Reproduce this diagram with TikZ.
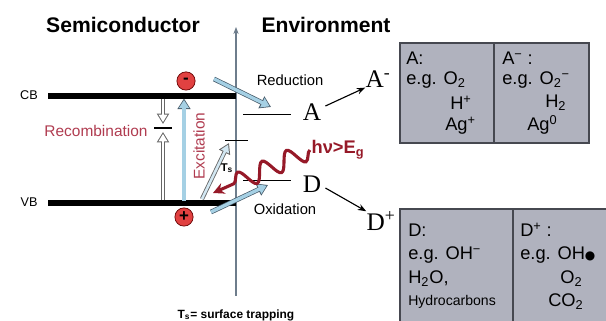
\documentclass[tikz,border=0pt]{standalone}
\usepackage{fontspec}
\setmainfont{Liberation Sans}
\newfontfamily\seriffont{Liberation Serif}
\newfontfamily\symfont{DejaVu Sans}
\usetikzlibrary{arrows.meta, decorations.pathmorphing}

\definecolor{boxgray}{RGB}{176,178,190}
\definecolor{boxedge}{RGB}{70,72,80}
\definecolor{pale}{RGB}{165,208,228}
\definecolor{paleedge}{RGB}{70,90,105}
\definecolor{axisgray}{RGB}{110,125,140}
\definecolor{labred}{RGB}{176,60,80}
\definecolor{darkred}{RGB}{150,25,40}
\definecolor{chargered}{RGB}{225,65,65}

\tikzset{
  title/.style={font=\fontsize{15}{18}\selectfont\bfseries},
  bandlbl/.style={font=\fontsize{9}{11}\selectfont},
  proc/.style={font=\fontsize{10.5}{12}\selectfont},
  redlbl/.style={text=labred, font=\fontsize{11}{13}\selectfont},
  species/.style={font=\seriffont\fontsize{18}{20}\selectfont, inner sep=0pt},
  boxtxt/.style={font=\fontsize{13}{15}\selectfont, anchor=west, inner sep=0pt},
  cellbox/.style={draw=boxedge, fill=boxgray, line width=0.9pt},
  band/.style={line width=3.6pt},
  level/.style={line width=0.7pt},
  charge/.style={circle, draw=red!40!black, fill=chargered, minimum size=13pt,
    inner sep=0pt, line width=0.5pt, font=\bfseries\fontsize{12}{12}\selectfont},
  % outlined block arrow: dark rim drawn first, light core on top
  blockarrow/.style={draw=#1, line width=2.4pt, shorten >=1.1pt,
    -{Triangle[length=5.8pt, width=7pt]},
    preaction={draw=paleedge, line width=3.4pt, shorten >=0pt,
      -{Triangle[length=7.6pt, width=9pt]}}},
  hollowarrow/.style={draw=white, line width=1.8pt, shorten >=1.3pt,
    -{Triangle[length=5.4pt, width=6pt]},
    preaction={draw=gray!80!black, line width=3.0pt, shorten >=0pt,
      -{Triangle[length=7.4pt, width=8.4pt]}}},
  wave/.style={draw=darkred, line width=2.2pt, -{Stealth[length=8pt, width=8pt]},
    decorate, decoration={snake, amplitude=6.5pt, segment length=19pt,
      post length=8pt}},
}

\begin{document}
\begin{tikzpicture}[x=0.025cm, y=-0.025cm]
  \useasboundingbox (0,0) rectangle (606,321);
  % headings
  \node[title] (semi) at (123,25) {Semiconductor};
  \node[title] (env) at (326,25) {Environment};
  % interface axis
  \coordinate (axB) at (236,296);
  \coordinate (axT) at (236,27);
  \draw[axisgray, line width=0.8pt, -{Stealth[length=5pt]}] (axB) -- (axT);
  % bands
  \coordinate (cbL) at (48,96);
  \coordinate (cbR) at (236,96);
  \coordinate (vbL) at (48,203);
  \coordinate (vbR) at (236,203);
  \draw[band] (cbL) -- (cbR);
  \draw[band] (vbL) -- (vbR);
  \node[bandlbl] (cb) at (29,95) {CB};
  \node[bandlbl] (vb) at (29,202) {VB};
  % recombination
  \coordinate (rcTop) at (163,99);
  \coordinate (rcBot) at (163,200);
  \draw[line width=0.8pt] (154,128) -- (172,128);
  \draw[hollowarrow] (rcTop) -- (163,124);
  \draw[hollowarrow] (rcBot) -- (163,132);
  \node[redlbl] (recomb) at (96,131) {Recombination};
  % excitation
  \coordinate (exBot) at (184,201);
  \coordinate (exTop) at (184,98.5);
  \draw[blockarrow=pale] (exBot) -- (exTop);
  \node[redlbl, rotate=90] (excit) at (199,146) {Excitation};
  \node[charge] (elec) at (186,81) {\raisebox{0.3pt}{-}};
  \node[charge] (hole) at (184,217) {+};
  % surface trap
  \coordinate (trL) at (225,140);
  \coordinate (trR) at (248,140);
  \draw[level] (trL) -- (trR);
  \coordinate (tsFrom) at (202,199);
  \coordinate (tsTo) at (229,143);
  \draw[hollowarrow, draw=pale!50!white] (tsFrom) -- (tsTo);
  \node[font=\bfseries\fontsize{8}{9}\selectfont] (ts) at (227,168) {T\textsubscript{s}};
  % acceptor and donor levels
  \draw[level] (243,114) -- (291,114);
  \node[species] (A) at (312,112) {A};
  \draw[level] (243,180) -- (291,180);
  \node[species] (D) at (312,184) {D};
  % charge transfer
  \coordinate (redFrom) at (214,79);
  \coordinate (redTo) at (271,107);
  \draw[blockarrow=pale] (redFrom) -- (redTo);
  \node[proc] (reduct) at (290,80) {Reduction};
  \coordinate (oxFrom) at (211,212);
  \coordinate (oxTo) at (268,185);
  \draw[blockarrow=pale] (oxFrom) -- (oxTo);
  \node[proc] (oxid) at (285,209) {Oxidation};
  % light
  \node[text=darkred, font=\bfseries\fontsize{13}{15}\selectfont, inner sep=1pt]
    (hv) at (338,150) {hν>E\textsubscript{g}};
  \coordinate (hvTip) at (213,193);
  \draw[wave] (hv.west) -- (hvTip);
  % products
  \node[species] (Aminus) at (378,79) {A\textsuperscript{-}};
  \node[species] (Dplus) at (381,221) {D\textsuperscript{+}};
  \draw[line width=0.8pt, -{Stealth[length=6pt]}] (A.east) ++(4,-6) -- (Aminus.south west);
  \draw[line width=0.8pt, -{Stealth[length=6pt]}] (D.east) ++(4,4) -- (Dplus.north west);
  % example boxes
  \draw[cellbox] (400,43) rectangle (589,143);
  \draw[boxedge, line width=0.9pt] (494,43) -- (494,143);
  \node[boxtxt] (aHead) at (406,58) {A:};
  \node[boxtxt] (aEg) at (406,80) {e.g. O\textsubscript{2}};
  \node[boxtxt] (aH) at (450,103) {H\textsuperscript{+}};
  \node[boxtxt] (aAg) at (445,126) {Ag\textsuperscript{+}};
  \node[boxtxt] (amHead) at (502,58) {A\textsuperscript{−} :};
  \node[boxtxt] (amEg) at (502,80) {e.g. O\textsubscript{2}\textsuperscript{−}};
  \node[boxtxt] (amH) at (545,103) {H\textsubscript{2}};
  \node[boxtxt] (amAg) at (527,125) {Ag\textsuperscript{0}};
  \fill[boxgray] (400,209) rectangle (606,321);
  \draw[boxedge, line width=0.9pt] (400,321) -- (400,209) -- (606,209);
  \draw[boxedge, line width=0.9pt] (513,209) -- (513,321);
  \node[boxtxt] (dHead) at (408,230) {D:};
  \node[boxtxt] (dEg) at (408,255) {e.g. OH\textsuperscript{−}};
  \node[boxtxt] (dWater) at (408,279) {H\textsubscript{2}O,};
  \node[boxtxt, font=\fontsize{10}{12}\selectfont] (dHc) at (408,302) {Hydrocarbons};
  \node[boxtxt] (dpHead) at (520,230) {D\textsuperscript{+} :};
  \node[boxtxt] (dpEg) at (520,255) {e.g. OH{\symfont\fontsize{8.5}{13}\selectfont●}};
  \node[boxtxt] (dpO) at (560,279) {O\textsubscript{2}};
  \node[boxtxt] (dpCO) at (548,302) {CO\textsubscript{2}};
  % footnote
  \node[font=\bfseries\fontsize{8.5}{10}\selectfont] (note) at (236,315)
    {T\textsubscript{s}= surface trapping};
\end{tikzpicture}
\end{document}
